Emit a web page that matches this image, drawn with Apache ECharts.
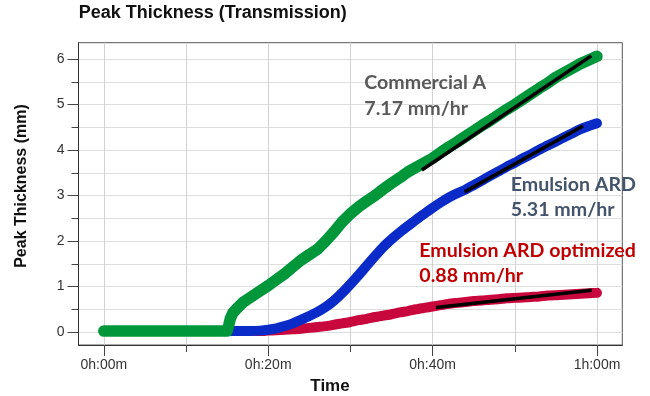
<!DOCTYPE html>
<html>
<head>
<meta charset="utf-8">
<script src="https://cdn.jsdelivr.net/npm/echarts@6/dist/echarts.min.js"></script>
<style>html,body{margin:0;padding:0;background:#fff}#c{width:650px;height:396px}</style>
</head>
<body>
<div id="c"></div>
<script>
// Minutes and values
const greenX = [0, 5, 10, 15.0, 15.2, 15.4, 15.7, 16.2, 17, 18, 19, 20, 21, 22, 23, 24, 25, 26, 27, 28, 29, 30, 31, 32, 33, 34, 35, 36, 37, 38, 39, 40, 41, 42, 43, 44, 45, 46, 47, 48, 49, 50, 51, 52, 53, 54, 55, 56, 57, 58, 59, 60];
const greenY = [0.02, 0.02, 0.02, 0.02, 0.15, 0.3, 0.42, 0.52, 0.66, 0.78, 0.9, 1.02, 1.15, 1.28, 1.43, 1.58, 1.7, 1.82, 2.0, 2.2, 2.42, 2.6, 2.75, 2.88, 3.0, 3.14, 3.27, 3.39, 3.52, 3.62, 3.72, 3.82, 3.95, 4.07, 4.18, 4.3, 4.42, 4.54, 4.65, 4.77, 4.89, 5.0, 5.12, 5.24, 5.36, 5.47, 5.6, 5.7, 5.8, 5.9, 5.98, 6.06];

const blueX = [0, 5, 10, 15, 18, 19, 20, 21, 22, 23, 24, 25, 26, 27, 28, 29, 30, 31, 32, 33, 34, 35, 36, 37, 38, 39, 40, 41, 42, 43, 44, 45, 46, 47, 48, 49, 50, 51, 52, 53, 54, 55, 56, 57, 58, 59, 60];
const blueY = [0.02, 0.02, 0.02, 0.02, 0.02, 0.03, 0.05, 0.08, 0.13, 0.19, 0.27, 0.35, 0.44, 0.55, 0.69, 0.86, 1.05, 1.25, 1.46, 1.67, 1.87, 2.04, 2.19, 2.33, 2.47, 2.6, 2.73, 2.85, 2.96, 3.05, 3.13, 3.23, 3.33, 3.43, 3.53, 3.63, 3.72, 3.82, 3.91, 4.01, 4.1, 4.19, 4.28, 4.37, 4.46, 4.53, 4.59];

const redX = [0, 5, 10, 15, 18, 19, 20, 21, 22, 23, 24, 25, 26, 27, 28, 29, 30, 31, 32, 33, 34, 35, 36, 37, 38, 39, 40, 41, 42, 43, 44, 45, 46, 47, 48, 49, 50, 51, 52, 53, 54, 55, 56, 57, 58, 59, 60];
const redY = [0.02, 0.02, 0.02, 0.02, 0.02, 0.02, 0.03, 0.04, 0.05, 0.06, 0.07, 0.09, 0.11, 0.13, 0.16, 0.19, 0.22, 0.26, 0.29, 0.33, 0.36, 0.39, 0.43, 0.46, 0.5, 0.53, 0.56, 0.59, 0.62, 0.64, 0.66, 0.68, 0.69, 0.71, 0.72, 0.74, 0.75, 0.76, 0.77, 0.78, 0.8, 0.81, 0.82, 0.83, 0.84, 0.85, 0.86];

// Linear fits (start/end in minutes, mm)
const fitGreenX = [38.7, 59.3];
const fitGreenY = [3.56, 6.07];
const fitBlueX = [43.9, 58.3];
const fitBlueY = [3.08, 4.53];
const fitRedX = [40.4, 59.35];
const fitRedY = [0.54, 0.92];

// Axis ticks
const xMajorTicks = [0, 20, 40, 60];
const xMinorTicks = [0, 10, 20, 30, 40, 50, 60];
const yMajorTicks = [0, 1, 2, 3, 4, 5, 6];
const yMinorTicks = [0, 0.5, 1, 1.5, 2, 2.5, 3, 3.5, 4, 4.5, 5, 5.5, 6];

const titleText = 'Peak Thickness (Transmission)';
const yName = 'Peak Thickness (mm)';
const xName = 'Time';
const notes = [
  ['Commercial A', '7.17 mm/hr'],
  ['Emulsion ARD', '5.31 mm/hr'],
  ['Emulsion ARD optimized', '0.88 mm/hr']
];

function zip(xs, ys) { return xs.map((x, i) => [x, ys[i]]); }
function fmtTime(v) {
  const h = Math.floor(v / 60), m = Math.round(v - h * 60);
  return h + 'h:' + (m < 10 ? '0' : '') + m + 'm';
}

const chart = echarts.init(document.getElementById('c'), null, {renderer: 'canvas'});
const tickFont = {fontFamily: 'Liberation Sans, Arial, sans-serif', fontSize: 14, color: '#333'};
const noteFont = {fontFamily: 'Lato', fontWeight: 'bold', fontSize: 19.6, verticalAlign: 'middle'};

const option = {
  animation: false,
  backgroundColor: '#fff',
  grid: {left: 78.5, right: 27.7, top: 42.7, bottom: 51, show: true, borderColor: '#555', borderWidth: 1, containLabel: false},
  xAxis: [
    {
      type: 'value', min: -3.08, max: 63.08, position: 'bottom',
      axisLine: {show: true, onZero: false, lineStyle: {color: '#333', width: 1}},
      axisTick: {show: true, customValues: xMinorTicks, length: 7, lineStyle: {color: '#444'}},
      axisLabel: {show: true, customValues: xMajorTicks, formatter: fmtTime, margin: 13, ...tickFont},
      splitLine: {show: true, lineStyle: {color: '#d2d2d2', width: 1}}
    },
    {
      type: 'value', min: -3.08, max: 63.08, position: 'bottom',
      axisLine: {show: false, onZero: false},
      axisTick: {show: true, customValues: xMajorTicks, length: 11, lineStyle: {color: '#444'}},
      axisLabel: {show: false},
      splitLine: {show: false}
    }
  ],
  yAxis: [
    {
      type: 'value', min: -0.286, max: 6.36, position: 'left',
      axisLine: {show: true, onZero: false, lineStyle: {color: '#333', width: 1}},
      axisTick: {show: true, customValues: yMinorTicks, length: 7, lineStyle: {color: '#444'}},
      axisLabel: {show: true, customValues: yMajorTicks, margin: 14, ...tickFont},
      splitLine: {show: true, lineStyle: {color: '#dedede', width: 1}}
    },
    {
      type: 'value', min: -0.286, max: 6.36, position: 'left',
      axisLine: {show: false, onZero: false},
      axisTick: {show: true, customValues: yMajorTicks, length: 11, lineStyle: {color: '#444'}},
      axisLabel: {show: false},
      splitLine: {show: false}
    }
  ],
  series: [
    {
      name: 'Emulsion ARD optimized', type: 'line', xAxisIndex: 0, yAxisIndex: 0,
      data: zip(redX, redY), showSymbol: false, symbol: 'none', z: 2, smooth: 0.2,
      lineStyle: {color: '#C8083C', width: 10, cap: 'round', join: 'round'}
    },
    {
      name: 'Emulsion ARD', type: 'line', xAxisIndex: 0, yAxisIndex: 0,
      data: zip(blueX, blueY), showSymbol: false, symbol: 'none', z: 3, smooth: 0.2,
      lineStyle: {color: '#0A2BC8', width: 10, cap: 'round', join: 'round'}
    },
    {
      name: 'Commercial A', type: 'line', xAxisIndex: 0, yAxisIndex: 0,
      data: zip(greenX, greenY), showSymbol: false, symbol: 'none', z: 4,
      lineStyle: {color: '#00963A', width: 11.5, cap: 'round', join: 'round'}
    },
    {
      name: 'fitA', type: 'line', data: zip(fitGreenX, fitGreenY), symbol: 'none', z: 5,
      lineStyle: {color: '#000', width: 3.5, cap: 'butt'}
    },
    {
      name: 'fitB', type: 'line', data: zip(fitBlueX, fitBlueY), symbol: 'none', z: 5,
      lineStyle: {color: '#000', width: 3.5, cap: 'butt'}
    },
    {
      name: 'fitC', type: 'line', data: zip(fitRedX, fitRedY), symbol: 'none', z: 5,
      lineStyle: {color: '#000', width: 3.5, cap: 'butt'}
    }
  ],
  graphic: [
    {type: 'text', left: 78.7, top: 4, style: {text: titleText, fontFamily: 'Liberation Sans, Arial, sans-serif', fontWeight: 'bold', fontSize: 18, fill: '#111'}},
    {type: 'text', x: 21.7, y: 186, rotation: Math.PI / 2, style: {text: yName, fontFamily: 'Liberation Sans, Arial, sans-serif', fontWeight: 'bold', fontSize: 16, fill: '#111', align: 'center', verticalAlign: 'middle'}},
    {type: 'text', x: 330, y: 386.5, style: {text: xName, fontFamily: 'Liberation Sans, Arial, sans-serif', fontWeight: 'bold', fontSize: 17, fill: '#111', align: 'center', verticalAlign: 'middle'}},
    {type: 'text', x: 364.3, y: 82.7, z: 10, style: {text: notes[0][0], ...noteFont, fill: '#595959'}},
    {type: 'text', x: 364.3, y: 108.3, z: 10, style: {text: notes[0][1], ...noteFont, fill: '#595959'}},
    {type: 'text', x: 510.8, y: 184.7, z: 10, style: {text: notes[1][0], ...noteFont, fill: '#44546A'}},
    {type: 'text', x: 510.8, y: 210, z: 10, style: {text: notes[1][1], ...noteFont, fill: '#44546A'}},
    {type: 'text', x: 419.3, y: 250.8, z: 10, style: {text: notes[2][0], ...noteFont, fill: '#C00000'}},
    {type: 'text', x: 419.3, y: 276, z: 10, style: {text: notes[2][1], ...noteFont, fill: '#C00000'}}
  ]
};
chart.setOption(option);
</script>
</body>
</html>
